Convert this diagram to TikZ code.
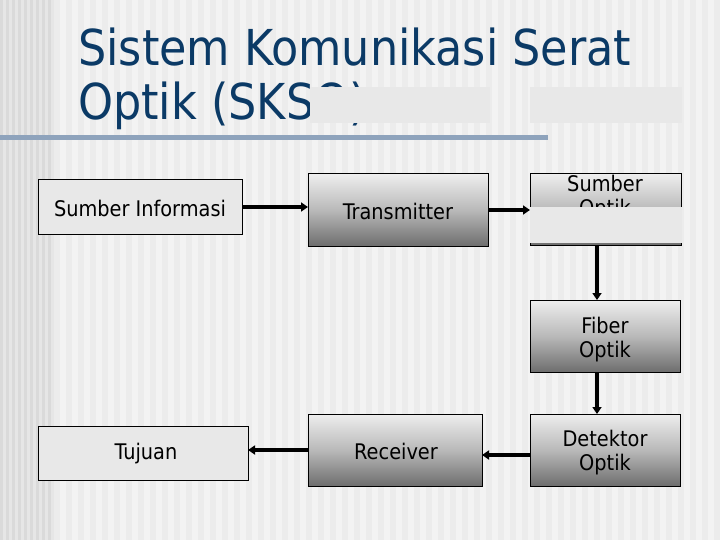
\documentclass[tikz,border=0pt]{standalone}
\usepackage{fontspec}
\setmainfont{DejaVu Sans Condensed}
\usetikzlibrary{arrows.meta}
\definecolor{bgA}{HTML}{F3F3F3}
\definecolor{bgB}{HTML}{ECECEC}
\definecolor{bandA}{HTML}{E6E6E6}
\definecolor{bandB}{HTML}{DADADA}
\definecolor{titleblue}{HTML}{0B3A66}
\definecolor{rulecol}{HTML}{8EA3BC}
\definecolor{boxlight}{HTML}{E8E8E8}
\definecolor{gradtop}{HTML}{EEEEEE}
\definecolor{gradbot}{HTML}{6E6E6E}
\definecolor{occl}{HTML}{E8E8E8}
\tikzset{
  plainbox/.style={draw=black, line width=1pt, fill=boxlight},
  gradbox/.style={draw=black, line width=1pt, top color=gradtop, bottom color=gradbot, middle color=gray!55},
  lbl/.style={font=\fontsize{21.5}{24}\selectfont, align=center, text=black},
  conn/.style={line width=3.5pt, -{Triangle[length=7pt,width=9pt]}},
  occluder/.style={fill=occl, draw=none}
}
\begin{document}
\begin{tikzpicture}[x=1pt,y=-1pt]
\useasboundingbox (0,0) rectangle (720,540);
% background
\fill[bgA] (0,0) rectangle (720,540);
\foreach \i in {0,...,56}{
  \fill[bgB] ({54+\i*12},0) rectangle ({60+\i*12},540);
}
\foreach \i in {0,...,8}{
  \fill[bandB] ({\i*6},0) rectangle ({\i*6+3},540);
  \fill[bandA] ({\i*6+3},0) rectangle ({\i*6+6},540);
}
% title
\node[anchor=base west, text=titleblue, font=\fontsize{49.5}{54}\selectfont, inner sep=0pt] (t1) at (78,66) {Sistem Komunikasi Serat};
\node[anchor=base west, text=titleblue, font=\fontsize{49.5}{54}\selectfont, inner sep=0pt] (t2) at (78,120) {Optik (SKSO)};
\fill[rulecol] (0,135) rectangle (548,140);
\fill[occluder] (310,87) rectangle (490,123);
\fill[occluder] (530,87) rectangle (682,123);
% boxes
\draw[plainbox] (38,180) rectangle (242,234);
\node[lbl] (si) at (140,208) {Sumber Informasi};
\coordinate (siE) at (242,207);
\draw[gradbox] (308,174) rectangle (488,246);
\node[lbl] (tx) at (398,211) {Transmitter};
\coordinate (txW) at (308,207);
\coordinate (txE) at (488,210);
\draw[gradbox] (530,174) rectangle (681,245);
\node[lbl] (so) at (605,198) {Sumber\\Optik};
\coordinate (soW) at (530,210);
\coordinate (soS) at (597,245);
\draw[gradbox] (530,300) rectangle (680,372);
\node[lbl] (fo) at (605,340) {Fiber\\Optik};
\coordinate (foN) at (597,300);
\coordinate (foS) at (597,372);
\draw[gradbox] (530,414) rectangle (680,486);
\node[lbl] (do) at (605,453) {Detektor\\Optik};
\coordinate (doN) at (597,414);
\coordinate (doW) at (530,455);
\draw[gradbox] (308,414) rectangle (482,486);
\node[lbl] (rx) at (396,451) {Receiver};
\coordinate (rxE) at (482,455);
\coordinate (rxW) at (308,450);
\draw[plainbox] (38,426) rectangle (248,480);
\node[lbl] (tj) at (146,454) {Tujuan};
\coordinate (tjE) at (248,450);
% connectors
\draw[conn] (siE) -- (txW);
\draw[conn] (txE) -- (soW);
\draw[conn] (soS) -- (foN);
\draw[conn] (foS) -- (doN);
\draw[conn] (doW) -- (rxE);
\draw[conn] (rxW) -- (tjE);
% occluder over Sumber Optik
\fill[occluder] (530,207) rectangle (682,243);
\end{tikzpicture}
\end{document}
